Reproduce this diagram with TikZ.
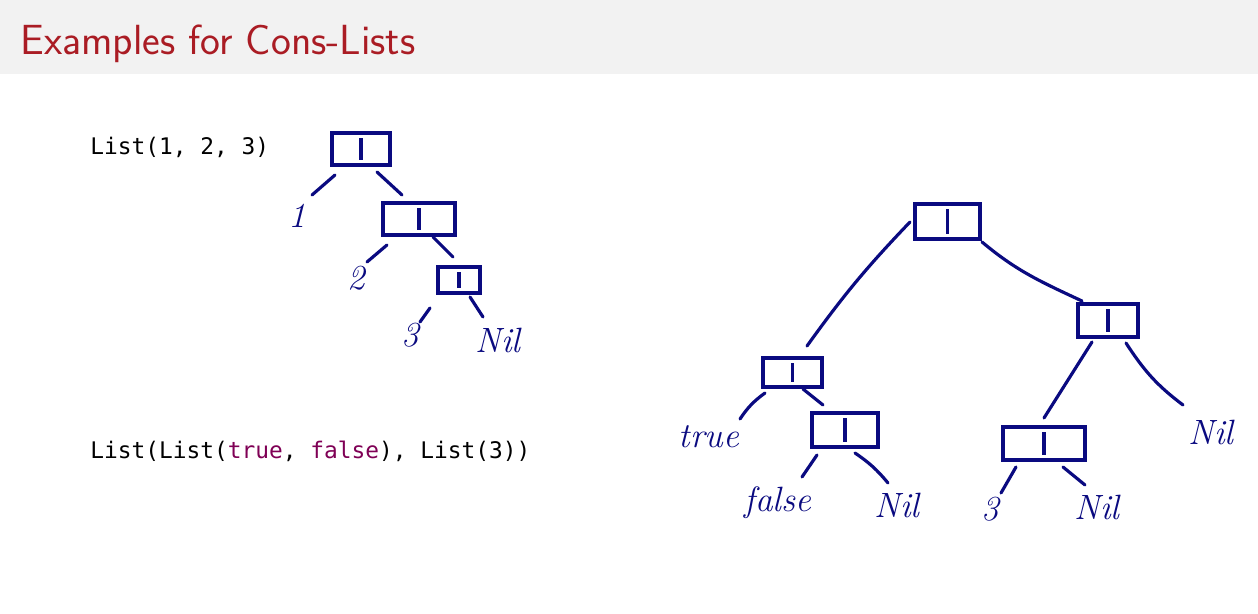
\documentclass[tikz,border=0pt]{standalone}
\usepackage{fontspec}
\newfontfamily\codefont{DejaVu Sans Mono}
\definecolor{ink}{RGB}{10,10,128}
\definecolor{titlered}{RGB}{170,28,36}
\definecolor{keyword}{RGB}{127,0,85}
\definecolor{barfill}{RGB}{242,242,242}

\begin{document}
\begin{tikzpicture}[x=0.02cm, y=-0.02cm,
    cell/.style={draw, color=ink, line width=1.8pt, inner sep=0pt, outer sep=0pt,
      path picture={\draw[ink, line width=1.8pt]
        ([yshift=-3pt]path picture bounding box.north) -- ([yshift=3pt]path picture bounding box.south);}},
    hand/.style={text=ink, font=\fontsize{20}{24}\selectfont\itshape, inner sep=0pt},
    link/.style={draw=ink, line width=1.8pt, line cap=round},
    code/.style={font=\codefont\fontsize{13}{16}\selectfont, anchor=base west, inner sep=0pt}]
    \useasboundingbox (0,0) rectangle (1258,614);
    % title bar
    \fill[barfill] (0,0) rectangle (1258,74);
    \node[anchor=base west, text=titlered, inner sep=0pt,
        font=\sffamily\fontsize{24}{28}\selectfont] (title) at (20,55) {Examples for Cons-Lists};
    % code
    \node[code] (codeA) at (90,155) {List(1, 2, 3)};
    \node[code] (codeB) at (90,459)
        {List(List(\textcolor{keyword}{true}, \textcolor{keyword}{false}), List(3))};

    % first list
    \node[cell, minimum width=1.16cm, minimum height=0.64cm] (b1) at (361,149) {};
    \node[cell, minimum width=1.44cm, minimum height=0.64cm] (b2) at (419,219) {};
    \node[cell, minimum width=0.84cm, minimum height=0.52cm] (b3) at (459,280) {};
    \node[hand] (one) at (297,216) {1};
    \node[hand] (two) at (356,278) {2};
    \node[hand] (three) at (410,335) {3};
    \node[hand] (nilA) at (498,340) {Nil};
    \draw[link] ([shift={(-26,26)}]b1.center) -- ([shift={(15,-21)}]one.center);
    \draw[link] ([shift={(16,23)}]b1.center) -- ([shift={(-17,-24)}]b2.center);
    \draw[link] ([shift={(-32,26)}]b2.center) -- ([shift={(11,-16)}]two.center);
    \draw[link] ([shift={(14,18)}]b2.center) -- ([shift={(-6,-23)}]b3.center);
    \draw[link] ([shift={(-29,28)}]b3.center) -- ([shift={(10,-13)}]three.center);
    \draw[link] ([shift={(11,17)}]b3.center) -- ([shift={(-15,-23)}]nilA.center);

    % second list
    \node[cell, minimum width=1.3cm, minimum height=0.7cm] (r0) at (947.5,221.5) {};
    \node[cell, minimum width=1.18cm, minimum height=0.58cm] (rA) at (792.5,372.5) {};
    \node[cell, minimum width=1.2cm, minimum height=0.66cm] (rB) at (1108,320.5) {};
    \node[cell, minimum width=1.32cm, minimum height=0.68cm] (rC) at (845,430) {};
    \node[cell, minimum width=1.64cm, minimum height=0.66cm] (rD) at (1044,443.5) {};
    \node[hand] (true) at (709,437) {true};
    \node[hand] (false) at (778,503) {false};
    \node[hand] (nilB) at (897,505) {Nil};
    \node[hand] (threeB) at (990,509) {3};
    \node[hand] (nilC) at (1097,507) {Nil};
    \node[hand] (nilD) at (1211,432) {Nil};
    \draw[link] ([shift={(-37.5,0.5)}]r0.center) to[bend right=4] ([shift={(14.5,-26.5)}]rA.center);
    \draw[link] ([shift={(34.5,20.5)}]r0.center) to[out=-40, in=155] ([shift={(-26,-19.5)}]rB.center);
    \draw[link] ([shift={(-16,21.5)}]rB.center) -- ([shift={(0,-25.5)}]rD.center);
    \draw[link] ([shift={(18,22.5)}]rB.center) to[out=-57, in=143] ([shift={(-28,-27)}]nilD.center);
    \draw[link] ([shift={(-27.5,20.5)}]rA.center) to[bend right=10] ([shift={(31,-18)}]true.center);
    \draw[link] ([shift={(10.5,16.5)}]rA.center) -- ([shift={(-22,-25)}]rC.center);
    \draw[link] ([shift={(-28,25)}]rC.center) -- ([shift={(24,-26)}]false.center);
    \draw[link] ([shift={(10,23)}]rC.center) to[bend left=8] ([shift={(-9,-22)}]nilB.center);
    \draw[link] ([shift={(-28,23.5)}]rD.center) -- ([shift={(11,-16)}]threeB.center);
    \draw[link] ([shift={(19,23.5)}]rD.center) -- ([shift={(-12,-22)}]nilC.center);
\end{tikzpicture}
\end{document}
